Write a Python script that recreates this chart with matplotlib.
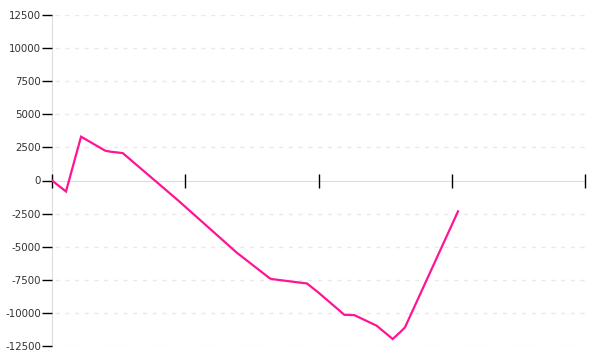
import matplotlib
matplotlib.use("Agg")
import matplotlib.pyplot as plt

LINE = "#ff1493"
GRID = "#e8e8e8"
AXIS = "#dddddd"
LABEL = "#333333"

# values (x in tick units 0..4)
x_vals = [0.0, 0.105, 0.218, 0.398, 0.435, 0.531, 0.938, 1.386, 1.636,
          1.658, 1.914, 1.996, 2.194, 2.269, 2.437, 2.557, 2.624, 2.649, 3.047]
y_vals = [0, -830, 3310, 2260, 2180, 2070, -1430, -5444, -7402,
          -7455, -7780, -8434, -10143, -10166, -10972, -11973, -11348, -11092, -2334]
y_ticks = [-12500, -10000, -7500, -5000, -2500, 0, 2500, 5000, 7500, 10000, 12500]
x_ticks = [0, 1, 2, 3, 4]

fig = plt.figure(figsize=(6, 3.6), dpi=100)
ax = fig.add_axes([52 / 600, 14 / 360, 533 / 600, 331 / 360])

ax.plot(x_vals, y_vals, color=LINE, lw=1.6, solid_joinstyle="miter", zorder=3)

ax.set_xlim(0, 4)
ax.set_ylim(-12500, 12500)
ax.set_yticks(y_ticks)
ax.set_yticklabels([str(v) for v in y_ticks], fontsize=7.4, color=LABEL)
ax.set_xticks(x_ticks)
ax.set_xticklabels([])

for v in y_ticks:
    if v != 0:
        ax.axhline(v, xmin=0.006, color=GRID, lw=1, ls=(0, (3, 4)), zorder=1)

for spine in ("top", "right"):
    ax.spines[spine].set_visible(False)
ax.spines["bottom"].set_position(("data", 0))
ax.spines["bottom"].set_color(AXIS)
ax.spines["left"].set_color(AXIS)
ax.spines["left"].set_zorder(1)
ax.spines["bottom"].set_zorder(1)

ax.tick_params(axis="y", length=7, width=1, color="black", pad=1)
ax.tick_params(axis="x", direction="inout", length=10, width=1, color="black")
for t in ax.xaxis.get_major_ticks():
    t.tick1line.set_clip_on(False)

fig.savefig("out.png", dpi=100)
